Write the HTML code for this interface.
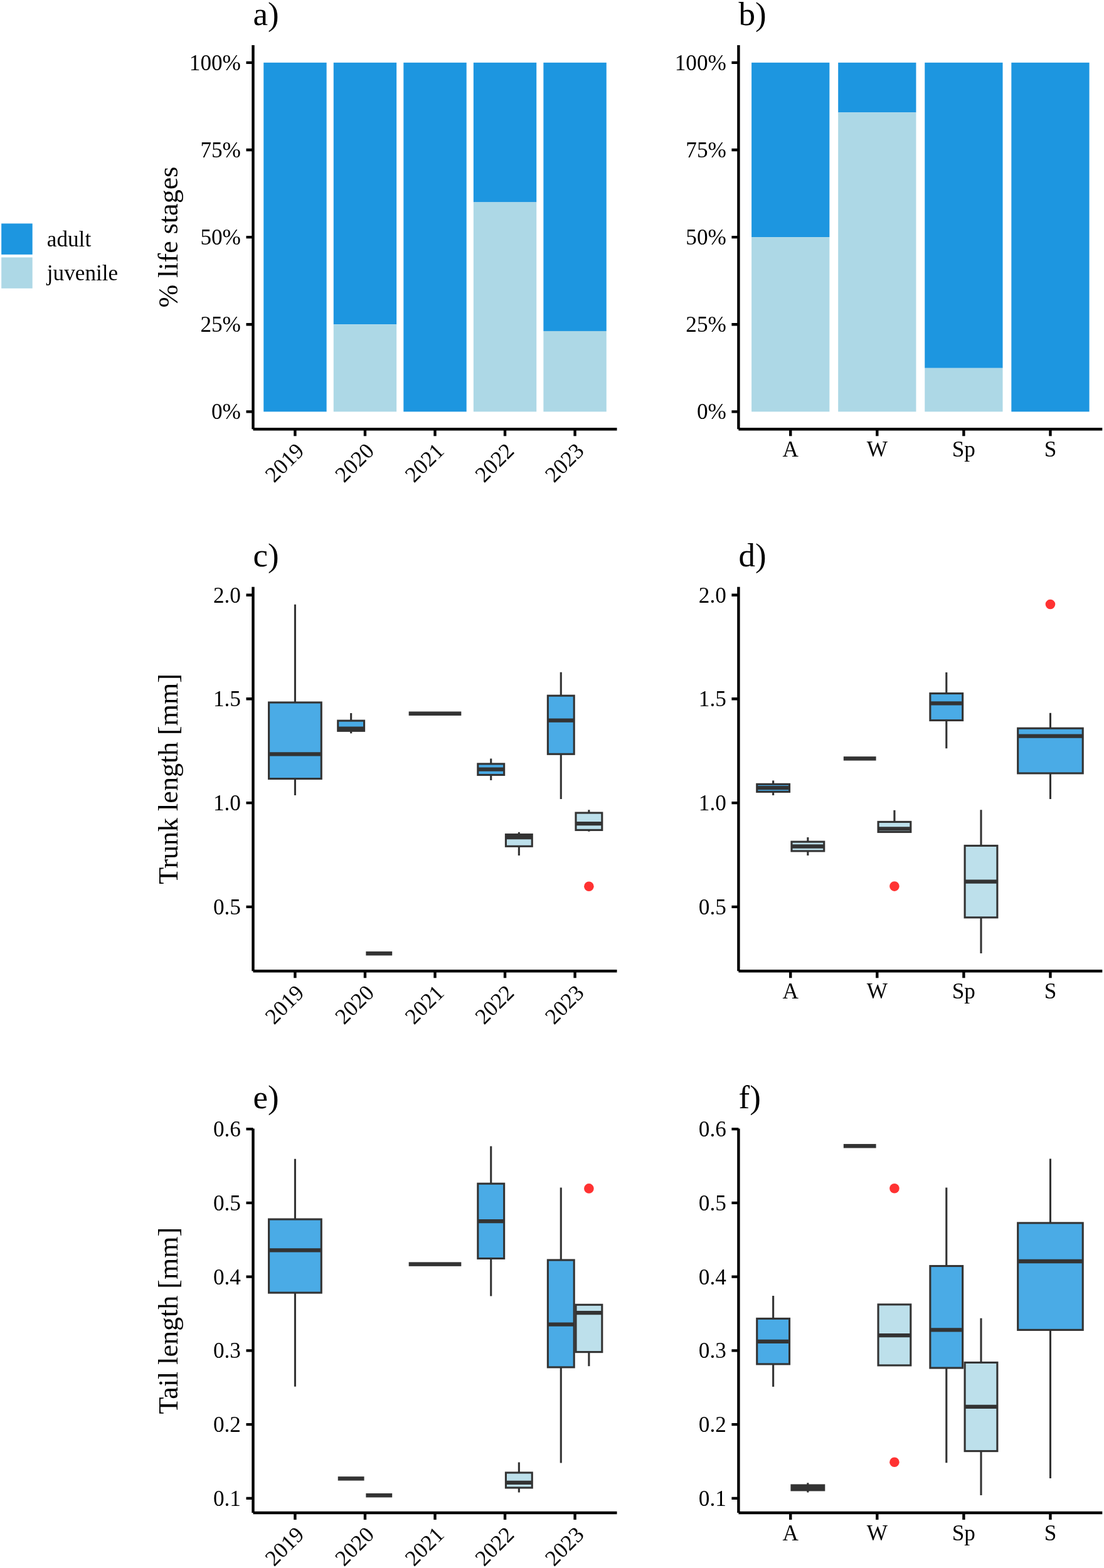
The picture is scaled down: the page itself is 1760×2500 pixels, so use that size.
<!DOCTYPE html>
<html lang="en">
<head>
<meta charset="utf-8">
<title>Life stages, trunk length and tail length by year and season</title>
<style>
html, body { margin: 0; padding: 0; background: #ffffff; }
body { width: 1760px; height: 2500px; overflow: hidden; }
svg { display: block; }
svg text { font-family: "Liberation Serif", "DejaVu Serif", serif; fill: #000000; }
</style>
</head>
<body>
<svg width="1760" height="2500" viewBox="0 0 1760 2500">
<rect x="0" y="0" width="1760" height="2500" fill="#ffffff"/>
<g class="legend">
<rect x="2.2" y="356.4" width="49.5" height="49.4" fill="#1D96E0"/>
<rect x="2.2" y="410.4" width="49.5" height="49.4" fill="#ADD8E6"/>
<text x="74.8" y="393.3" font-size="35.2">adult</text>
<text x="74.8" y="447.1" font-size="35.2">juvenile</text>
</g>
<g id="panel-a">
<g class="axes">
<path d="M403.5 72V684.2M403.5 684.2H983.5" fill="none" stroke="#000" stroke-width="4.4"/>
<path d="M392.5 656.37H403.5M392.5 517.24H403.5M392.5 378.1H403.5M392.5 238.96H403.5M392.5 99.83H403.5M470.42 684.2V695.2M581.96 684.2V695.2M693.5 684.2V695.2M805.04 684.2V695.2M916.58 684.2V695.2" fill="none" stroke="#000" stroke-width="4.4"/>
<text x="383.9" y="668.47" text-anchor="end" font-size="35.2">0%</text>
<text x="383.9" y="529.34" text-anchor="end" font-size="35.2">25%</text>
<text x="383.9" y="390.2" text-anchor="end" font-size="35.2">50%</text>
<text x="383.9" y="251.06" text-anchor="end" font-size="35.2">75%</text>
<text x="383.9" y="111.93" text-anchor="end" font-size="35.2">100%</text>
<text transform="translate(469.82 704) rotate(-45)" x="0" y="24" text-anchor="end" font-size="35.2">2019</text>
<text transform="translate(581.36 704) rotate(-45)" x="0" y="24" text-anchor="end" font-size="35.2">2020</text>
<text transform="translate(692.9 704) rotate(-45)" x="0" y="24" text-anchor="end" font-size="35.2">2021</text>
<text transform="translate(804.44 704) rotate(-45)" x="0" y="24" text-anchor="end" font-size="35.2">2022</text>
<text transform="translate(915.98 704) rotate(-45)" x="0" y="24" text-anchor="end" font-size="35.2">2023</text>
<text x="403.6" y="39.6" font-size="53">a)</text>
<text transform="translate(283 378.1) rotate(-90)" text-anchor="middle" font-size="44">% life stages</text>
</g>
<rect x="420.23" y="99.83" width="100.38" height="556.55" fill="#1D96E0"/>
<rect x="531.77" y="99.83" width="100.38" height="417.41" fill="#1D96E0"/>
<rect x="531.77" y="517.24" width="100.38" height="139.14" fill="#ADD8E6"/>
<rect x="643.31" y="99.83" width="100.38" height="556.55" fill="#1D96E0"/>
<rect x="754.85" y="99.83" width="100.38" height="222.62" fill="#1D96E0"/>
<rect x="754.85" y="322.45" width="100.38" height="333.93" fill="#ADD8E6"/>
<rect x="866.38" y="99.83" width="100.38" height="428.11" fill="#1D96E0"/>
<rect x="866.38" y="527.94" width="100.38" height="128.43" fill="#ADD8E6"/>
</g>
<g id="panel-b">
<g class="axes">
<path d="M1177.4 72V684.2M1177.4 684.2H1757.3" fill="none" stroke="#000" stroke-width="4.4"/>
<path d="M1166.4 656.37H1177.4M1166.4 517.24H1177.4M1166.4 378.1H1177.4M1166.4 238.96H1177.4M1166.4 99.83H1177.4M1260.24 684.2V695.2M1398.31 684.2V695.2M1536.39 684.2V695.2M1674.46 684.2V695.2" fill="none" stroke="#000" stroke-width="4.4"/>
<text x="1157.8" y="668.47" text-anchor="end" font-size="35.2">0%</text>
<text x="1157.8" y="529.34" text-anchor="end" font-size="35.2">25%</text>
<text x="1157.8" y="390.2" text-anchor="end" font-size="35.2">50%</text>
<text x="1157.8" y="251.06" text-anchor="end" font-size="35.2">75%</text>
<text x="1157.8" y="111.93" text-anchor="end" font-size="35.2">100%</text>
<text x="1260.24" y="728.1" text-anchor="middle" font-size="35.2">A</text>
<text x="1398.31" y="728.1" text-anchor="middle" font-size="35.2">W</text>
<text x="1536.39" y="728.1" text-anchor="middle" font-size="35.2">Sp</text>
<text x="1674.46" y="728.1" text-anchor="middle" font-size="35.2">S</text>
<text x="1177.5" y="39.6" font-size="53">b)</text>
</g>
<rect x="1198.11" y="99.83" width="124.26" height="278.27" fill="#1D96E0"/>
<rect x="1198.11" y="378.1" width="124.26" height="278.27" fill="#ADD8E6"/>
<rect x="1336.18" y="99.83" width="124.26" height="79.51" fill="#1D96E0"/>
<rect x="1336.18" y="179.33" width="124.26" height="477.04" fill="#ADD8E6"/>
<rect x="1474.25" y="99.83" width="124.26" height="486.98" fill="#1D96E0"/>
<rect x="1474.25" y="586.8" width="124.26" height="69.57" fill="#ADD8E6"/>
<rect x="1612.33" y="99.83" width="124.26" height="556.55" fill="#1D96E0"/>
</g>
<g id="panel-c">
<g class="axes">
<path d="M403.5 935.8V1548.2M403.5 1548.2H983.5" fill="none" stroke="#000" stroke-width="4.4"/>
<path d="M392.5 948.7H403.5M392.5 1114.3H403.5M392.5 1280.1H403.5M392.5 1445.9H403.5M470.42 1548.2V1559.2M581.96 1548.2V1559.2M693.5 1548.2V1559.2M805.04 1548.2V1559.2M916.58 1548.2V1559.2" fill="none" stroke="#000" stroke-width="4.4"/>
<text x="383.9" y="960.8" text-anchor="end" font-size="35.2">2.0</text>
<text x="383.9" y="1126.4" text-anchor="end" font-size="35.2">1.5</text>
<text x="383.9" y="1292.2" text-anchor="end" font-size="35.2">1.0</text>
<text x="383.9" y="1458" text-anchor="end" font-size="35.2">0.5</text>
<text transform="translate(469.82 1568) rotate(-45)" x="0" y="24" text-anchor="end" font-size="35.2">2019</text>
<text transform="translate(581.36 1568) rotate(-45)" x="0" y="24" text-anchor="end" font-size="35.2">2020</text>
<text transform="translate(692.9 1568) rotate(-45)" x="0" y="24" text-anchor="end" font-size="35.2">2021</text>
<text transform="translate(804.44 1568) rotate(-45)" x="0" y="24" text-anchor="end" font-size="35.2">2022</text>
<text transform="translate(915.98 1568) rotate(-45)" x="0" y="24" text-anchor="end" font-size="35.2">2023</text>
<text x="403.6" y="903.4" font-size="53">c)</text>
<text transform="translate(283 1242) rotate(-90)" text-anchor="middle" font-size="44">Trunk length [mm]</text>
</g>
<g>
<path d="M470.42 963.8V1120M470.42 1241.6V1268" fill="none" stroke="#333333" stroke-width="3.1"/>
<rect x="428.6" y="1120" width="83.65" height="121.6" fill="#4AABE6" stroke="#333333" stroke-width="3.1"/>
<path d="M428.6 1202.4H512.25" fill="none" stroke="#333333" stroke-width="6.3"/>
</g>
<g>
<path d="M559.65 1137V1149.1M559.65 1165.3V1169.3" fill="none" stroke="#333333" stroke-width="3.1"/>
<rect x="538.74" y="1149.1" width="41.83" height="16.2" fill="#4AABE6" stroke="#333333" stroke-width="3.1"/>
<path d="M538.74 1161.6H580.57" fill="none" stroke="#333333" stroke-width="6.3"/>
</g>
<rect x="583.36" y="1516.95" width="41.83" height="6.5" fill="#333333"/>
<rect x="651.67" y="1134.45" width="83.65" height="6.5" fill="#333333"/>
<g>
<path d="M782.73 1209.4V1217.9M782.73 1235.5V1244.1" fill="none" stroke="#333333" stroke-width="3.1"/>
<rect x="761.82" y="1217.9" width="41.83" height="17.6" fill="#4AABE6" stroke="#333333" stroke-width="3.1"/>
<path d="M761.82 1226.7H803.64" fill="none" stroke="#333333" stroke-width="6.3"/>
</g>
<g>
<path d="M827.35 1326.8V1330.5M827.35 1349.3V1363.9" fill="none" stroke="#333333" stroke-width="3.1"/>
<rect x="806.43" y="1330.5" width="41.83" height="18.8" fill="#BDE0EB" stroke="#333333" stroke-width="3.1"/>
<path d="M806.43 1335H848.26" fill="none" stroke="#333333" stroke-width="6.3"/>
</g>
<g>
<path d="M894.27 1071.8V1109.2M894.27 1202.3V1274" fill="none" stroke="#333333" stroke-width="3.1"/>
<rect x="873.36" y="1109.2" width="41.83" height="93.1" fill="#4AABE6" stroke="#333333" stroke-width="3.1"/>
<path d="M873.36 1148.7H915.18" fill="none" stroke="#333333" stroke-width="6.3"/>
</g>
<g>
<circle cx="938.88" cy="1413.2" r="7.8" fill="#FF3232"/>
<path d="M938.88 1291.2V1296M938.88 1323.4V1325.8" fill="none" stroke="#333333" stroke-width="3.1"/>
<rect x="917.97" y="1296" width="41.83" height="27.4" fill="#BDE0EB" stroke="#333333" stroke-width="3.1"/>
<path d="M917.97 1313.1H959.8" fill="none" stroke="#333333" stroke-width="6.3"/>
</g>
</g>
<g id="panel-d">
<g class="axes">
<path d="M1177.4 935.8V1548.2M1177.4 1548.2H1757.3" fill="none" stroke="#000" stroke-width="4.4"/>
<path d="M1166.4 948.7H1177.4M1166.4 1114.3H1177.4M1166.4 1280.1H1177.4M1166.4 1445.9H1177.4M1260.24 1548.2V1559.2M1398.31 1548.2V1559.2M1536.39 1548.2V1559.2M1674.46 1548.2V1559.2" fill="none" stroke="#000" stroke-width="4.4"/>
<text x="1157.8" y="960.8" text-anchor="end" font-size="35.2">2.0</text>
<text x="1157.8" y="1126.4" text-anchor="end" font-size="35.2">1.5</text>
<text x="1157.8" y="1292.2" text-anchor="end" font-size="35.2">1.0</text>
<text x="1157.8" y="1458" text-anchor="end" font-size="35.2">0.5</text>
<text x="1260.24" y="1592.1" text-anchor="middle" font-size="35.2">A</text>
<text x="1398.31" y="1592.1" text-anchor="middle" font-size="35.2">W</text>
<text x="1536.39" y="1592.1" text-anchor="middle" font-size="35.2">Sp</text>
<text x="1674.46" y="1592.1" text-anchor="middle" font-size="35.2">S</text>
<text x="1177.5" y="903.4" font-size="53">d)</text>
</g>
<g>
<path d="M1232.63 1244.6V1250.3M1232.63 1262.4V1268.1" fill="none" stroke="#333333" stroke-width="3.1"/>
<rect x="1206.74" y="1250.3" width="51.78" height="12.1" fill="#4AABE6" stroke="#333333" stroke-width="3.1"/>
<path d="M1206.74 1256.2H1258.52" fill="none" stroke="#333333" stroke-width="6.3"/>
</g>
<g>
<path d="M1287.86 1335.1V1342.1M1287.86 1356.9V1363.9" fill="none" stroke="#333333" stroke-width="3.1"/>
<rect x="1261.97" y="1342.1" width="51.78" height="14.8" fill="#BDE0EB" stroke="#333333" stroke-width="3.1"/>
<path d="M1261.97 1349.5H1313.75" fill="none" stroke="#333333" stroke-width="6.3"/>
</g>
<rect x="1344.81" y="1206.15" width="51.78" height="6.5" fill="#333333"/>
<g>
<circle cx="1425.93" cy="1413.1" r="7.8" fill="#FF3232"/>
<path d="M1425.93 1291.8V1310.4" fill="none" stroke="#333333" stroke-width="3.1"/>
<rect x="1400.04" y="1310.4" width="51.78" height="16.1" fill="#BDE0EB" stroke="#333333" stroke-width="3.1"/>
<path d="M1400.04 1321.3H1451.82" fill="none" stroke="#333333" stroke-width="6.3"/>
</g>
<g>
<path d="M1508.77 1072V1105.6M1508.77 1148.5V1193.2" fill="none" stroke="#333333" stroke-width="3.1"/>
<rect x="1482.88" y="1105.6" width="51.78" height="42.9" fill="#4AABE6" stroke="#333333" stroke-width="3.1"/>
<path d="M1482.88 1121.4H1534.66" fill="none" stroke="#333333" stroke-width="6.3"/>
</g>
<g>
<path d="M1564 1291.2V1348.4M1564 1462.8V1520" fill="none" stroke="#333333" stroke-width="3.1"/>
<rect x="1538.11" y="1348.4" width="51.78" height="114.4" fill="#BDE0EB" stroke="#333333" stroke-width="3.1"/>
<path d="M1538.11 1405.7H1589.89" fill="none" stroke="#333333" stroke-width="6.3"/>
</g>
<g>
<circle cx="1674.46" cy="963.5" r="7.8" fill="#FF3232"/>
<path d="M1674.46 1136.8V1161.2M1674.46 1232.9V1273.9" fill="none" stroke="#333333" stroke-width="3.1"/>
<rect x="1622.68" y="1161.2" width="103.55" height="71.7" fill="#4AABE6" stroke="#333333" stroke-width="3.1"/>
<path d="M1622.68 1173.6H1726.23" fill="none" stroke="#333333" stroke-width="6.3"/>
</g>
</g>
<g id="panel-e">
<g class="axes">
<path d="M403.5 1799.4V2412M403.5 2412H983.5" fill="none" stroke="#000" stroke-width="4.4"/>
<path d="M392.5 1800.1H403.5M392.5 1917.85H403.5M392.5 2035.6H403.5M392.5 2153.35H403.5M392.5 2271.1H403.5M392.5 2388.9H403.5M470.42 2412V2423M581.96 2412V2423M693.5 2412V2423M805.04 2412V2423M916.58 2412V2423" fill="none" stroke="#000" stroke-width="4.4"/>
<text x="383.9" y="1812.2" text-anchor="end" font-size="35.2">0.6</text>
<text x="383.9" y="1929.95" text-anchor="end" font-size="35.2">0.5</text>
<text x="383.9" y="2047.7" text-anchor="end" font-size="35.2">0.4</text>
<text x="383.9" y="2165.45" text-anchor="end" font-size="35.2">0.3</text>
<text x="383.9" y="2283.2" text-anchor="end" font-size="35.2">0.2</text>
<text x="383.9" y="2401" text-anchor="end" font-size="35.2">0.1</text>
<text transform="translate(469.82 2431.8) rotate(-45)" x="0" y="24" text-anchor="end" font-size="35.2">2019</text>
<text transform="translate(581.36 2431.8) rotate(-45)" x="0" y="24" text-anchor="end" font-size="35.2">2020</text>
<text transform="translate(692.9 2431.8) rotate(-45)" x="0" y="24" text-anchor="end" font-size="35.2">2021</text>
<text transform="translate(804.44 2431.8) rotate(-45)" x="0" y="24" text-anchor="end" font-size="35.2">2022</text>
<text transform="translate(915.98 2431.8) rotate(-45)" x="0" y="24" text-anchor="end" font-size="35.2">2023</text>
<text x="403.6" y="1767" font-size="53">e)</text>
<text transform="translate(283 2105.7) rotate(-90)" text-anchor="middle" font-size="44">Tail length [mm]</text>
</g>
<g transform="translate(0 0.2)">
<g>
<path d="M470.42 1847.5V1943.8M470.42 2060.9V2210.6" fill="none" stroke="#333333" stroke-width="3.1"/>
<rect x="428.6" y="1943.8" width="83.65" height="117.1" fill="#4AABE6" stroke="#333333" stroke-width="3.1"/>
<path d="M428.6 1993.1H512.25" fill="none" stroke="#333333" stroke-width="6.3"/>
</g>
<rect x="538.74" y="2353.95" width="41.83" height="6.5" fill="#333333"/>
<rect x="583.36" y="2380.75" width="41.83" height="6.5" fill="#333333"/>
<rect x="651.67" y="2012.15" width="83.65" height="6.5" fill="#333333"/>
<g>
<path d="M782.73 1827.3V1887M782.73 2006.3V2066.2" fill="none" stroke="#333333" stroke-width="3.1"/>
<rect x="761.82" y="1887" width="41.83" height="119.3" fill="#4AABE6" stroke="#333333" stroke-width="3.1"/>
<path d="M761.82 1946.9H803.64" fill="none" stroke="#333333" stroke-width="6.3"/>
</g>
<g>
<path d="M827.35 2331.2V2347.8M827.35 2371.8V2379.2" fill="none" stroke="#333333" stroke-width="3.1"/>
<rect x="806.43" y="2347.8" width="41.83" height="24" fill="#BDE0EB" stroke="#333333" stroke-width="3.1"/>
<path d="M806.43 2363.6H848.26" fill="none" stroke="#333333" stroke-width="6.3"/>
</g>
<g>
<path d="M894.27 1893.4V2008.8M894.27 2179.7V2332.2" fill="none" stroke="#333333" stroke-width="3.1"/>
<rect x="873.36" y="2008.8" width="41.83" height="170.9" fill="#4AABE6" stroke="#333333" stroke-width="3.1"/>
<path d="M873.36 2111.5H915.18" fill="none" stroke="#333333" stroke-width="6.3"/>
</g>
<g>
<circle cx="938.88" cy="1894.7" r="7.8" fill="#FF3232"/>
<path d="M938.88 2155.4V2178" fill="none" stroke="#333333" stroke-width="3.1"/>
<rect x="917.97" y="2080.1" width="41.83" height="75.3" fill="#BDE0EB" stroke="#333333" stroke-width="3.1"/>
<path d="M917.97 2092.9H959.8" fill="none" stroke="#333333" stroke-width="6.3"/>
</g>
</g>
</g>
<g id="panel-f">
<g class="axes">
<path d="M1177.4 1799.4V2412M1177.4 2412H1757.3" fill="none" stroke="#000" stroke-width="4.4"/>
<path d="M1166.4 1800.1H1177.4M1166.4 1917.85H1177.4M1166.4 2035.6H1177.4M1166.4 2153.35H1177.4M1166.4 2271.1H1177.4M1166.4 2388.9H1177.4M1260.24 2412V2423M1398.31 2412V2423M1536.39 2412V2423M1674.46 2412V2423" fill="none" stroke="#000" stroke-width="4.4"/>
<text x="1157.8" y="1812.2" text-anchor="end" font-size="35.2">0.6</text>
<text x="1157.8" y="1929.95" text-anchor="end" font-size="35.2">0.5</text>
<text x="1157.8" y="2047.7" text-anchor="end" font-size="35.2">0.4</text>
<text x="1157.8" y="2165.45" text-anchor="end" font-size="35.2">0.3</text>
<text x="1157.8" y="2283.2" text-anchor="end" font-size="35.2">0.2</text>
<text x="1157.8" y="2401" text-anchor="end" font-size="35.2">0.1</text>
<text x="1260.24" y="2455.9" text-anchor="middle" font-size="35.2">A</text>
<text x="1398.31" y="2455.9" text-anchor="middle" font-size="35.2">W</text>
<text x="1536.39" y="2455.9" text-anchor="middle" font-size="35.2">Sp</text>
<text x="1674.46" y="2455.9" text-anchor="middle" font-size="35.2">S</text>
<text x="1177.5" y="1767" font-size="53">f)</text>
</g>
<g transform="translate(0 0.2)">
<g>
<path d="M1232.63 2065.8V2102.2M1232.63 2174.7V2210.9" fill="none" stroke="#333333" stroke-width="3.1"/>
<rect x="1206.74" y="2102.2" width="51.78" height="72.5" fill="#4AABE6" stroke="#333333" stroke-width="3.1"/>
<path d="M1206.74 2138.6H1258.52" fill="none" stroke="#333333" stroke-width="6.3"/>
</g>
<g>
<path d="M1287.86 2364.1V2367.8M1287.86 2375.7V2379.2" fill="none" stroke="#333333" stroke-width="3.1"/>
<rect x="1261.97" y="2367.8" width="51.78" height="7.9" fill="#BDE0EB" stroke="#333333" stroke-width="3.1"/>
<path d="M1261.97 2371.8H1313.75" fill="none" stroke="#333333" stroke-width="6.3"/>
</g>
<rect x="1344.81" y="1823.75" width="51.78" height="6.5" fill="#333333"/>
<g>
<circle cx="1425.93" cy="1894.6" r="7.8" fill="#FF3232"/>
<circle cx="1425.93" cy="2331.1" r="7.8" fill="#FF3232"/>
<rect x="1400.04" y="2079.7" width="51.78" height="97" fill="#BDE0EB" stroke="#333333" stroke-width="3.1"/>
<path d="M1400.04 2129H1451.82" fill="none" stroke="#333333" stroke-width="6.3"/>
</g>
<g>
<path d="M1508.77 1893.4V2018.3M1508.77 2180.8V2332" fill="none" stroke="#333333" stroke-width="3.1"/>
<rect x="1482.88" y="2018.3" width="51.78" height="162.5" fill="#4AABE6" stroke="#333333" stroke-width="3.1"/>
<path d="M1482.88 2120.2H1534.66" fill="none" stroke="#333333" stroke-width="6.3"/>
</g>
<g>
<path d="M1564 2101.5V2172.2M1564 2313.4V2383.9" fill="none" stroke="#333333" stroke-width="3.1"/>
<rect x="1538.11" y="2172.2" width="51.78" height="141.2" fill="#BDE0EB" stroke="#333333" stroke-width="3.1"/>
<path d="M1538.11 2242.7H1589.89" fill="none" stroke="#333333" stroke-width="6.3"/>
</g>
<g>
<path d="M1674.46 1847.3V1949.7M1674.46 2120.2V2356.8" fill="none" stroke="#333333" stroke-width="3.1"/>
<rect x="1622.68" y="1949.7" width="103.55" height="170.5" fill="#4AABE6" stroke="#333333" stroke-width="3.1"/>
<path d="M1622.68 2010.8H1726.23" fill="none" stroke="#333333" stroke-width="6.3"/>
</g>
</g>
</g>
</svg>
</body>
</html>
